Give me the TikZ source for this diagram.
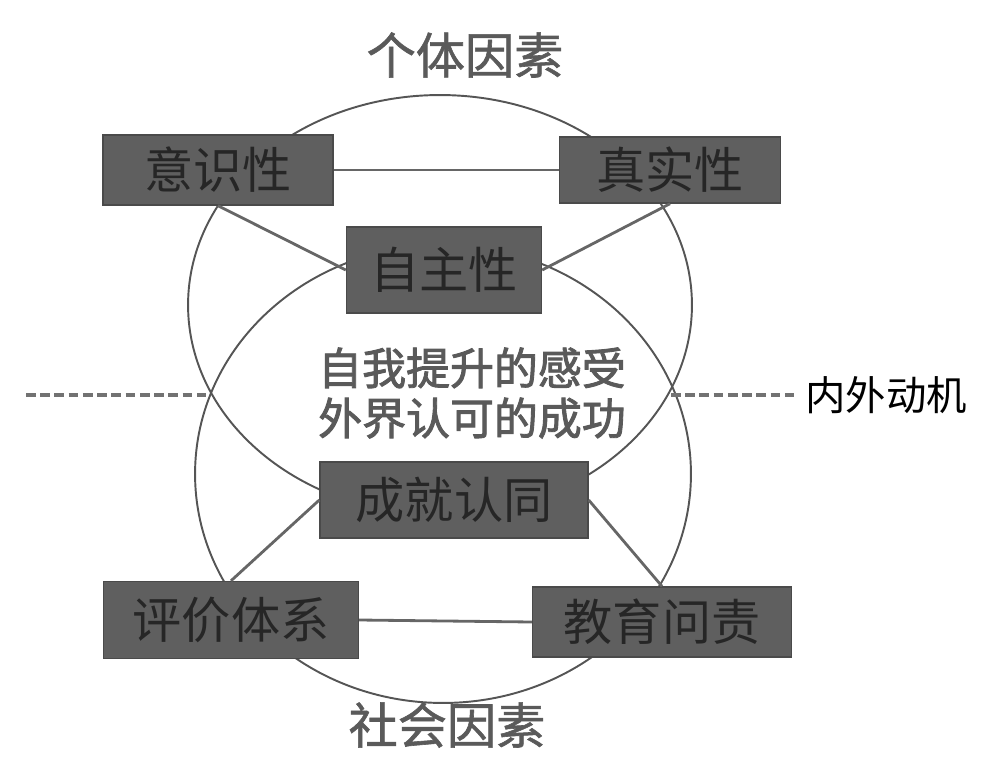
\documentclass[tikz,border=0pt]{standalone}
\usepackage{fontspec}
\usepackage{xcolor}
\usepackage{tikz}
\usetikzlibrary{positioning,calc}
\setmainfont{Noto Sans CJK SC}
\newfontfamily\labelfont[FakeBold=1.2]{Noto Sans CJK SC}
\newfontfamily\innerfont[FakeBold=2]{Noto Sans CJK SC}

\definecolor{boxfill}{HTML}{5F5F5F}
\definecolor{boxline}{HTML}{4A4A4A}
\definecolor{boxtext}{HTML}{262626}
\definecolor{ringcol}{HTML}{555555}
\definecolor{labelcol}{HTML}{5A5A5A}
\definecolor{dashcol}{HTML}{727272}

\tikzset{
  factor/.style={draw=boxline, fill=boxfill, text=boxtext, line width=0.8pt,
    inner sep=0pt, font=\fontsize{28}{30}\selectfont},
  link/.style={draw=ringcol!90, line width=1.6pt},
  ring/.style={draw=ringcol, line width=1.1pt},
  motive/.style={draw=dashcol, line width=2.7pt, dash pattern=on 5.5pt off 2.6pt},
  title/.style={text=labelcol, font=\labelfont\fontsize{28}{30}\selectfont}
}

\begin{document}
\begin{tikzpicture}[x=0.02cm, y=-0.02cm]
\useasboundingbox (0,0) rectangle (1000,770);

% Two overlapping rings
\draw[ring] (440,305) ellipse [x radius=5.04cm, y radius=4.2cm];
\draw[ring] (443,474) ellipse [x radius=4.96cm, y radius=4.58cm];

% Factor boxes
\node[factor, minimum width=4.6cm, minimum height=1.4cm] (yishi) at (218,170) {意识性};
\node[factor, minimum width=4.42cm, minimum height=1.32cm] (zhenshi) at (670,170) {真实性};
\node[factor, minimum width=3.9cm, minimum height=1.72cm] (zizhu) at (444,270) {自主性};
\node[factor, minimum width=5.36cm, minimum height=1.52cm] (chengjiu) at (454,500) {成就认同};
\node[factor, minimum width=5.1cm, minimum height=1.54cm] (pingjia) at (231,620) {评价体系};
\node[factor, minimum width=5.18cm, minimum height=1.4cm] (jiaoyu) at (662,622) {教育问责};

% Links
\draw[link] (yishi.east) -- (zhenshi.west);
\draw[link] (yishi.south) -- (zizhu.west);
\draw[link] (zhenshi.south) -- (zizhu.east);
\draw[link] (chengjiu.west) -- (pingjia.north);
\draw[link] (chengjiu.east) -- (jiaoyu.north);
\draw[link] (pingjia.east) -- (jiaoyu.west);

% Labels
\node[title] (geti) at (465,55) {个体因素};
\node[title] (shehui) at (447,725) {社会因素};
\node[text=labelcol, font=\innerfont\fontsize{25}{28.5}\selectfont, align=center] (inner) at (472,393)
  {自我提升的感受\\外界认可的成功};
\node[text=black, font=\fontsize{23}{25}\selectfont, anchor=west, inner sep=0pt] (neiwai) at (805,395) {内外动机};

% Dashed divider
\coordinate (leftend) at (26,395);
\coordinate (leftcross) at (206,395);
\coordinate (rightcross) at (671,395);
\draw[motive] (leftend) -- (leftcross);
\draw[motive] (rightcross) -- ([xshift=-6pt]neiwai.west);

\end{tikzpicture}
\end{document}
